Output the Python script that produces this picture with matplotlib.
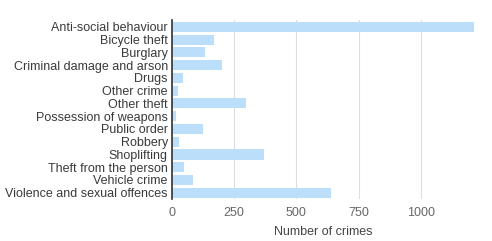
import matplotlib
matplotlib.use("Agg")
import matplotlib.pyplot as plt

# dados
categories = [
    "Anti-social behaviour", "Bicycle theft", "Burglary", "Criminal damage and arson",
    "Drugs", "Other crime", "Other theft", "Possession of weapons", "Public order",
    "Robbery", "Shoplifting", "Theft from the person", "Vehicle crime",
    "Violence and sexual offences",
]
counts = [1216, 168, 132, 203, 46, 23, 298, 15, 124, 27, 370, 50, 83, 640]
x_ticks = [0, 250, 500, 750, 1000]

plt.rcParams['font.family'] = ['Liberation Sans', 'DejaVu Sans']

fig = plt.figure(figsize=(4.92, 2.41), dpi=100)
ax = fig.add_axes([0.3496, 0.174, 0.6148, 0.741])

ypos = list(range(len(categories)))
ax.barh(ypos, counts, height=0.8, color='#bbdefb', zorder=2)

ax.set_yticks(ypos)
ax.set_yticklabels(categories)
ax.set_ylim(len(categories) - 0.5, -0.5)
ax.set_xlim(0, max(counts))
ax.set_xticks(x_ticks)
ax.set_xticklabels([str(t) for t in x_ticks])

ax.grid(axis='x', color='#dddddd', linewidth=0.8, zorder=0)
ax.tick_params(axis='both', length=0, labelsize=9)
ax.tick_params(axis='y', pad=3, labelcolor='#3a3a3a')
ax.tick_params(axis='x', pad=6, labelcolor='#666666')

for s in ['top', 'right', 'bottom']:
    ax.spines[s].set_visible(False)
ax.spines['left'].set_color('#333333')
ax.spines['left'].set_linewidth(1.2)

ax.set_xlabel('Number of crimes', fontsize=9, color='#444444', labelpad=5)

fig.savefig('out.png', dpi=100)
